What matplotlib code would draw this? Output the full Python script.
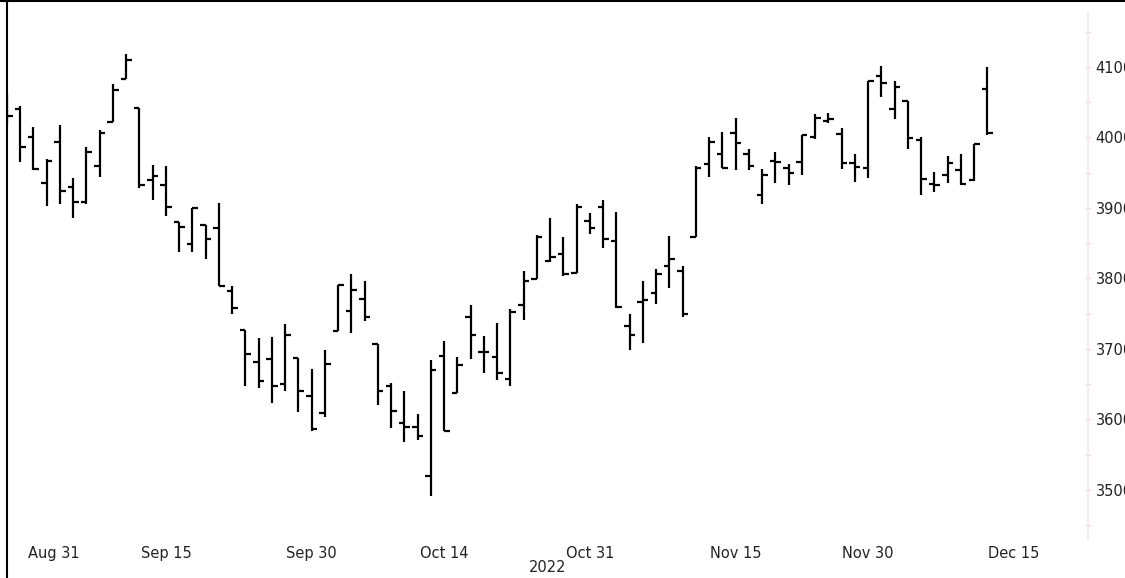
import numpy as np
import matplotlib
matplotlib.use('Agg')
import matplotlib.pyplot as plt
import matplotlib.transforms as mtrans
from matplotlib.lines import Line2D
from matplotlib.ticker import MultipleLocator

# trading days shown on the chart (weekends / holidays skipped)
dates = ['2022-08-29', '2022-08-30', '2022-08-31', '2022-09-01', '2022-09-02',
         '2022-09-06', '2022-09-07', '2022-09-08', '2022-09-09', '2022-09-12',
         '2022-09-13', '2022-09-14', '2022-09-15', '2022-09-16', '2022-09-19',
         '2022-09-20', '2022-09-21', '2022-09-22', '2022-09-23', '2022-09-26',
         '2022-09-27', '2022-09-28', '2022-09-29', '2022-09-30', '2022-10-03',
         '2022-10-04', '2022-10-05', '2022-10-06', '2022-10-07', '2022-10-10',
         '2022-10-11', '2022-10-12', '2022-10-13', '2022-10-14', '2022-10-17',
         '2022-10-18', '2022-10-19', '2022-10-20', '2022-10-21', '2022-10-24',
         '2022-10-25', '2022-10-26', '2022-10-27', '2022-10-28', '2022-10-31',
         '2022-11-01', '2022-11-02', '2022-11-03', '2022-11-04', '2022-11-07',
         '2022-11-08', '2022-11-09', '2022-11-10', '2022-11-11', '2022-11-14',
         '2022-11-15', '2022-11-16', '2022-11-17', '2022-11-18', '2022-11-21',
         '2022-11-22', '2022-11-23', '2022-11-25', '2022-11-28', '2022-11-29',
         '2022-11-30', '2022-12-01', '2022-12-02', '2022-12-05', '2022-12-06',
         '2022-12-07', '2022-12-08', '2022-12-09', '2022-12-12', '2022-12-13']

opens = [4034, 4041, 4000, 3936, 3994, 3930, 3909, 3959, 4022, 4083,
         4042, 3940, 3932, 3880, 3849, 3876, 3871, 3782, 3727, 3682,
         3686, 3651, 3687, 3633, 3609, 3726, 3754, 3771, 3707, 3647,
         3595, 3590, 3520, 3690, 3638, 3746, 3696, 3689, 3657, 3762,
         3799, 3825, 3834, 3808, 3881, 3901, 3853, 3733, 3767, 3780,
         3817, 3810, 3859, 3963, 3977, 4007, 3977, 3919, 3966, 3956,
         3965, 4000, 4023, 4005, 3964, 3957, 4087, 4041, 4052, 3996,
         3934, 3947, 3954, 3940, 4069]
highs = [4062, 4044, 4015, 3970, 4018, 3942, 3987, 4010, 4076, 4119,
         4042, 3961, 3959, 3880, 3900, 3876, 3907, 3790, 3727, 3716,
         3717, 3736, 3687, 3671, 3698, 3791, 3806, 3797, 3707, 3652,
         3640, 3608, 3685, 3712, 3689, 3762, 3719, 3737, 3757, 3810,
         3862, 3886, 3859, 3905, 3893, 3911, 3894, 3750, 3796, 3813,
         3860, 3818, 3959, 4001, 4008, 4028, 3983, 3955, 3979, 3962,
         4003, 4034, 4035, 4013, 3976, 4080, 4101, 4080, 4052, 4001,
         3951, 3974, 3977, 3991, 4100]
lows = [4017, 3965, 3954, 3903, 3906, 3886, 3906, 3944, 4022, 4083,
        3928, 3912, 3888, 3837, 3838, 3827, 3789, 3750, 3648, 3644,
        3623, 3640, 3610, 3584, 3604, 3726, 3723, 3739, 3620, 3588,
        3568, 3571, 3491, 3584, 3638, 3686, 3666, 3656, 3647, 3741,
        3799, 3824, 3803, 3808, 3863, 3843, 3758, 3698, 3708, 3764,
        3786, 3745, 3859, 3944, 3957, 3954, 3954, 3906, 3936, 3933,
        3947, 3998, 4020, 3955, 3937, 3943, 4057, 4026, 3984, 3919,
        3922, 3935, 3933, 3938, 4003]
closes = [4031, 3986, 3955, 3966, 3924, 3908, 3980, 4006, 4067, 4110,
          3932, 3946, 3901, 3873, 3900, 3856, 3790, 3758, 3693, 3655,
          3648, 3720, 3640, 3586, 3679, 3791, 3783, 3745, 3640, 3612,
          3589, 3577, 3670, 3583, 3677, 3720, 3695, 3666, 3752, 3797,
          3859, 3830, 3807, 3901, 3872, 3856, 3759, 3720, 3770, 3807,
          3828, 3749, 3956, 3993, 3957, 3992, 3959, 3947, 3965, 3950,
          4003, 4027, 4026, 3964, 3958, 4080, 4077, 4072, 3999, 3941,
          3933, 3964, 3934, 3991, 4006]

# tick labels (Dec 14 / Dec 15 follow the last trading day)
extra_days = ['2022-12-14', '2022-12-15']
tick_days = ['2022-08-31', '2022-09-15', '2022-09-30', '2022-10-14',
             '2022-10-31', '2022-11-15', '2022-11-30', '2022-12-15']
tick_labels = ['Aug 31', 'Sep 15', 'Sep 30', 'Oct 14', 'Oct 31',
               'Nov 15', 'Nov 30', 'Dec 15']


def main():
	W, H = 1125, 578
	fig = plt.figure(figsize=(W / 100, H / 100), dpi=100)
	fig.patch.set_facecolor('white')
	ax = fig.add_axes([7 / W, 38 / H, (1088 - 7) / W, (540 - 12) / H])

	x = np.arange(len(dates))
	w = 0.42
	lw = 1.6
	ax.vlines(x, lows, highs, color='black', lw=lw)
	ax.hlines(opens, x - w, x, color='black', lw=lw)
	ax.hlines(closes, x, x + w, color='black', lw=lw)

	ax.set_xlim(0, 81.6)
	ax.set_ylim(3429, 4178)

	# x axis: trading-day positions of the labelled dates
	calendar = dates + extra_days
	ax.set_xticks([calendar.index(d) for d in tick_days])
	ax.set_xticklabels(tick_labels)
	ax.tick_params(axis='x', length=0, pad=4, labelsize=10.5, labelcolor='#222222')
	first = ax.get_xticklabels()[0]
	first.set_transform(first.get_transform() +
						mtrans.ScaledTranslation(0.20, 0, fig.dpi_scale_trans))
	ax.text(0.5, -0.038, '2022', transform=ax.transAxes, ha='center', va='top',
			fontsize=10.5, color='#222222')

	# y axis on the right
	ax.yaxis.tick_right()
	ax.yaxis.set_major_locator(MultipleLocator(100))
	ax.yaxis.set_minor_locator(MultipleLocator(50))
	ax.tick_params(axis='y', which='both', direction='inout', length=5,
				   color='#f0d8df', width=1, pad=3, labelsize=10.5,
				   labelcolor='#222222')
	for side in ['left', 'top', 'bottom']:
		ax.spines[side].set_visible(False)
	ax.spines['right'].set_color('#f5e6ea')
	ax.spines['right'].set_linewidth(1.2)

	# frame lines at the top and left of the picture
	fig.add_artist(Line2D([0, 1], [1 - 1 / H, 1 - 1 / H], transform=fig.transFigure,
						  color='black', lw=1.5))
	fig.add_artist(Line2D([7 / W, 7 / W], [0, 1], transform=fig.transFigure,
						  color='black', lw=1.5))

	fig.savefig('out.png', dpi=100)


if __name__ == '__main__':
	main()
